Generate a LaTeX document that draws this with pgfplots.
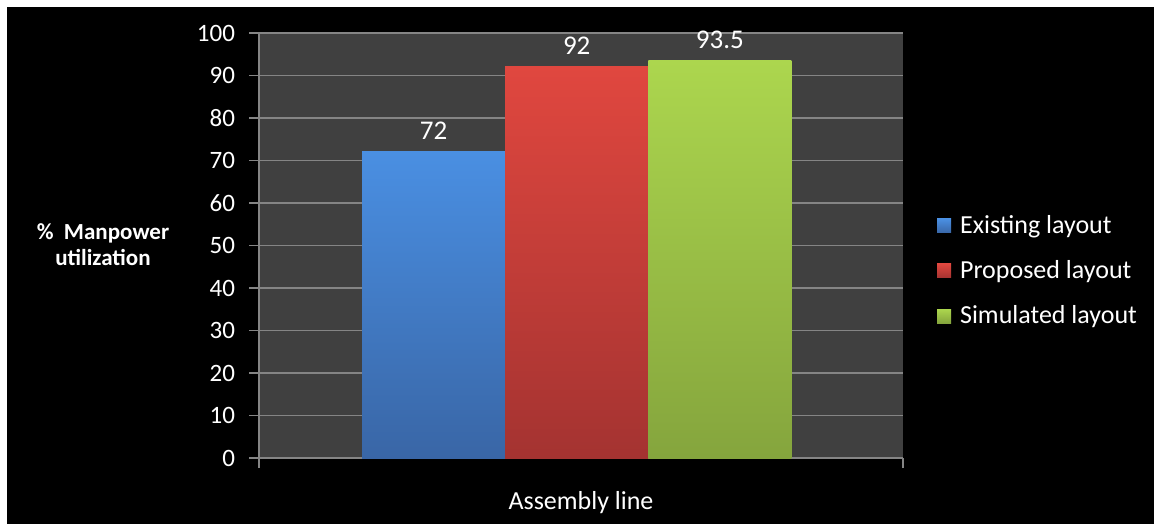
\documentclass[border=0pt]{standalone}
\usepackage{fontspec}
\setmainfont{Carlito}
\usepackage{pgfplots}
\pgfplotsset{compat=1.18}

\definecolor{plotbg}{HTML}{404040}
\definecolor{gridc}{HTML}{858585}
\definecolor{blueT}{HTML}{4A8FE2}
\definecolor{blueB}{HTML}{3966A6}
\definecolor{redT}{HTML}{E0473F}
\definecolor{redB}{HTML}{A43331}
\definecolor{greenT}{HTML}{ACD64E}
\definecolor{greenB}{HTML}{85A53D}

\begin{document}
\begin{tikzpicture}
% page: white strip on the left and top, black chart area
\fill[white] (0,0) rectangle (577pt,262pt);
\fill[black] (3.5pt,0) rectangle (577pt,258.5pt);

% y axis title
\node[white, font=\fontsize{11.5}{13}\selectfont\bfseries, align=center]
  at (51.5pt,139.5pt) {\%\ \ Manpower\\utilization};

\begin{axis}[
  at={(129.5pt,33pt)}, anchor=south west,
  scale only axis, width=322pt, height=212.5pt,
  xmin=-2.22, xmax=2.28, ymin=0, ymax=100,
  ytick distance=10,
  xtick={-2.22,2.28}, xticklabels={},
  axis background/.style={fill=plotbg},
  axis x line*=bottom, axis y line*=left,
  axis line style={gridc, line width=0.6pt, -},
  ymajorgrids, grid style={gridc, line width=0.6pt},
  tick style={gridc, line width=0.6pt},
  tick align=outside, major tick length=5pt,
  tick label style={white, font=\fontsize{12.5}{14}\selectfont},
  yticklabel style={xshift=-3.5pt},
  /pgf/number format/assume math mode=true,
  xlabel={Assembly line},
  xlabel style={white, font=\fontsize{13}{15}\selectfont, at={(0.5,0)}, yshift=-13pt},
  legend style={at={(1.043,0.44)}, anchor=west, draw=none, fill=none,
    text=white, font=\fontsize{13}{15}\selectfont, row sep=8pt},
  legend cell align=left,
  legend image code/.code={%
    \path (0pt,0pt) -- (9.5pt,0pt);
    \fill[#1] (0pt,-3.5pt) rectangle (7pt,3.5pt);},
  nodes near coords,
  nodes near coords style={white, font=\fontsize{13.5}{15}\selectfont, yshift=2.5pt},
]
\addplot[ybar, bar width=1, bar shift=0, draw=none,
  top color=blueT, bottom color=blueB] coordinates {(-1,72)};
\addlegendentry{Existing layout}
\addplot[ybar, bar width=1, bar shift=0, draw=none,
  top color=redT, bottom color=redB] coordinates {(0,92)};
\addlegendentry{Proposed layout}
\addplot[ybar, bar width=1, bar shift=0, draw=none,
  top color=greenT, bottom color=greenB] coordinates {(1,93.5)};
\addlegendentry{Simulated layout}
\end{axis}
\end{tikzpicture}
\end{document}
